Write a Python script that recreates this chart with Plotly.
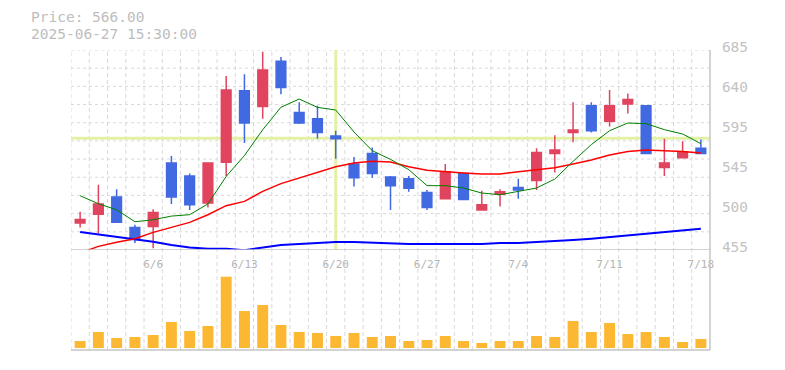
import plotly.graph_objects as go

# ---------------- data ----------------
dates = ["2025-06-02", "2025-06-03", "2025-06-04", "2025-06-05", "2025-06-06",
         "2025-06-09", "2025-06-10", "2025-06-11", "2025-06-12", "2025-06-13",
         "2025-06-16", "2025-06-17", "2025-06-18", "2025-06-19", "2025-06-20",
         "2025-06-23", "2025-06-24", "2025-06-25", "2025-06-26", "2025-06-27",
         "2025-06-30", "2025-07-01", "2025-07-02", "2025-07-03", "2025-07-04",
         "2025-07-07", "2025-07-08", "2025-07-09", "2025-07-10", "2025-07-11",
         "2025-07-14", "2025-07-15", "2025-07-16", "2025-07-17", "2025-07-18"]

opens = [486, 496, 516, 481, 482, 555, 540, 509, 556, 638,
         620, 672, 613, 606, 586, 554, 566, 539, 537, 521,
         514, 543, 501, 519, 527, 535, 566, 590, 621, 603,
         623, 621, 550, 561, 572]
highs = [499, 530, 525, 484, 502, 563, 543, 555, 655, 657,
         683, 677, 625, 621, 592, 562, 573, 540, 540, 524,
         554, 543, 523, 525, 537, 572, 587, 625, 625, 639,
         635, 621, 583, 580, 582]
lows = [481, 474, 486, 463, 457, 508, 501, 504, 540, 578,
        606, 634, 600, 583, 560, 528, 538, 501, 522, 501,
        514, 513, 501, 505, 514, 524, 544, 579, 590, 597,
        612, 566, 540, 561, 565]
closes = [490, 508, 487, 467, 498, 516, 507, 555, 639, 601,
          662, 642, 601, 590, 583, 538, 543, 529, 526, 504,
          545, 513, 507, 522, 524, 567, 570, 593, 592, 621,
          628, 566, 555, 568, 566]

ma_short = [517.4, 508.2, 501.3, 487.5, 489.8, 494.0, 495.6, 508.0, 539.6, 563.6,
            593.3, 619.2, 628.6, 619.0, 616.0, 590.7, 569.2, 559.2, 547.4, 529.0,
            529.0, 526.3, 520.5, 518.6, 522.4, 526.3, 536.6, 557.0, 576.2, 592.2,
            601.0, 600.3, 593.4, 588.4, 577.3]
ma_mid = [451.5, 459.2, 463.8, 468.0, 475.3, 481.0, 486.8, 495.6, 506.0, 510.9,
          522.4, 531.3, 537.8, 544.3, 550.8, 555.0, 557.0, 556.2, 550.8, 546.6,
          544.7, 543.5, 542.4, 542.4, 545.1, 547.8, 549.7, 553.9, 558.5, 564.2,
          568.4, 570.0, 569.6, 568.4, 566.5]
ma_long = [475.7, 473.0, 470.7, 468.0, 464.6, 460.7, 458.0, 456.5, 456.3, 454.8,
           458.0, 460.7, 461.9, 463.0, 464.2, 464.2, 463.4, 462.3, 461.9, 461.9,
           461.9, 461.9, 461.9, 463.0, 463.0, 464.2, 465.0, 466.5, 468.0, 469.9,
           471.9, 473.4, 475.3, 477.6, 479.5]

volumes = [70000, 160000, 100000, 110000, 130000, 260000, 170000, 220000, 713000, 370000,
           430000, 230000, 160000, 150000, 120000, 150000, 110000, 120000, 70000, 80000,
           120000, 70000, 50000, 70000, 70000, 120000, 110000, 270000, 160000, 250000,
           140000, 160000, 110000, 60000, 90000]

tick_dates = ["2025-06-06", "2025-06-13", "2025-06-20", "2025-06-27",
              "2025-07-04", "2025-07-11", "2025-07-18"]
tick_labels = ["6/6", "6/13", "6/20", "6/27", "7/4", "7/11", "7/18"]

price_ticks = [455, 501, 547, 593, 639, 685]
price_tick_labels = ["455", "500", "545", "595", "640", "685"]

cursor_date_index = 14
cursor_price = 583.6
header_price = "Price: 566.00"
header_time = "2025-06-27 15:30:00"

# ---------------- style ----------------
RED = "#E0445F"
BLUE = "#4169E1"
ORANGE = "#FDB833"
GRID = "#d9d9d9"
AXIS = "#c4c4c4"
CROSS = "#e3f1a6"
FONT = "DejaVu Sans Mono"
Y_MIN, Y_MAX = 455, 685
PAGE_OFFSET = 8  # default body margin of the html page

fig = go.Figure()

fig.add_trace(go.Candlestick(
    x=dates, open=opens, high=highs, low=lows, close=closes,
    increasing=dict(line=dict(color=RED, width=1.5), fillcolor=RED),
    decreasing=dict(line=dict(color=BLUE, width=1.5), fillcolor=BLUE),
    whiskerwidth=0, xaxis="x", yaxis="y", showlegend=False, hoverinfo="skip"))

fig.add_trace(go.Scatter(x=dates, y=ma_long, mode="lines",
                         line=dict(color="#0000ff", width=2),
                         xaxis="x", yaxis="y", showlegend=False, hoverinfo="skip"))
fig.add_trace(go.Scatter(x=dates, y=ma_mid, mode="lines",
                         line=dict(color="#ff0000", width=1.5),
                         xaxis="x", yaxis="y", showlegend=False, hoverinfo="skip"))
fig.add_trace(go.Scatter(x=dates, y=ma_short, mode="lines",
                         line=dict(color="#008000", width=1),
                         xaxis="x", yaxis="y", showlegend=False, hoverinfo="skip"))

fig.add_trace(go.Bar(x=dates, y=volumes, marker=dict(color=ORANGE, line=dict(width=0)),
                     width=0.6, xaxis="x2", yaxis="y2", showlegend=False, hoverinfo="skip"))

shapes = []
n = len(dates)
for k in range(11):
    yv = Y_MAX - k * (Y_MAX - Y_MIN) / 11
    shapes.append(dict(type="line", xref="paper", yref="y", x0=0, x1=1, y0=yv, y1=yv,
                       line=dict(color=GRID, width=1, dash="3px,3px"), layer="below"))
for k in range(n):
    shapes.append(dict(type="line", xref="x", yref="paper", x0=k - 0.5, x1=k - 0.5, y0=0, y1=1,
                       line=dict(color=GRID, width=1, dash="4px,3px"), layer="below"))
shapes.append(dict(type="line", xref="x", yref="y", x0=cursor_date_index, x1=cursor_date_index,
                   y0=Y_MIN, y1=Y_MAX, line=dict(color=CROSS, width=3), layer="below"))
shapes.append(dict(type="line", xref="paper", yref="y", x0=0, x1=1, y0=cursor_price, y1=cursor_price,
                   line=dict(color=CROSS, width=3), layer="below"))
shapes.append(dict(type="line", xref="paper", yref="y", x0=0, x1=1, y0=Y_MIN, y1=Y_MIN,
                   line=dict(color=AXIS, width=1.5)))
shapes.append(dict(type="line", xref="paper", yref="paper", x0=0, x1=1, y0=0, y1=0,
                   line=dict(color=AXIS, width=1.5)))
shapes.append(dict(type="line", xref="paper", yref="paper", x0=1, x1=1, y0=0, y1=1,
                   line=dict(color=AXIS, width=1.5)))

# target plot area in window pixels: x 71..710, y 50..350
ml = 71 - PAGE_OFFSET
mt = 50 - PAGE_OFFSET
mr = 785 + PAGE_OFFSET - 710
mb = 370 + PAGE_OFFSET - 350
pw = 710 - 71
ph = 350 - 50

def px_x(x):
    return (x - 71) / pw

def px_y(y):
    return (350 - y) / ph

fig.update_layout(
    width=785, height=370,
    margin=dict(l=ml, r=mr, t=mt, b=mb),
    paper_bgcolor="white", plot_bgcolor="white",
    boxgap=0.47, boxgroupgap=0,
    shapes=shapes,
    font=dict(family=FONT),
    xaxis=dict(domain=[0, 1], anchor="y", type="category", range=[-0.5, n - 0.5],
               showgrid=False, zeroline=False, showline=False,
               tickvals=tick_dates, ticktext=tick_labels,
               ticks="outside", ticklen=4, tickcolor="rgba(0,0,0,0)",
               tickfont=dict(family=FONT, size=11, color="#b5b5b5"),
               rangeslider=dict(visible=False), fixedrange=True),
    xaxis2=dict(domain=[0, 1], anchor="y2", type="category", range=[-0.5, n - 0.5],
                matches="x", showticklabels=False, showgrid=False, zeroline=False,
                showline=False, fixedrange=True),
    yaxis=dict(domain=[1 / 3, 1], range=[Y_MIN, Y_MAX], side="right",
               tickvals=price_ticks, ticktext=price_tick_labels,
               showgrid=False, zeroline=False, showline=False,
               ticks="outside", ticklen=8, tickcolor="rgba(0,0,0,0)",
               ticklabelshift=-3,
               tickfont=dict(family=FONT, size=14.5, color="#c3c3c3"), fixedrange=True),
    yaxis2=dict(domain=[0, 0.27], range=[-20000, 790000], showticklabels=False,
                showgrid=False, zeroline=False, showline=False, fixedrange=True),
    annotations=[
        dict(text=header_price, xref="paper", yref="paper", x=px_x(30), y=px_y(17.5),
             xanchor="left", yanchor="middle", showarrow=False, borderpad=0,
             font=dict(family=FONT, size=14.5, color="#bdbdbd")),
        dict(text=header_time, xref="paper", yref="paper", x=px_x(30), y=px_y(34),
             xanchor="left", yanchor="middle", showarrow=False, borderpad=0,
             font=dict(family=FONT, size=14.5, color="#bdbdbd")),
    ],
)

fig.write_html("out.html")
